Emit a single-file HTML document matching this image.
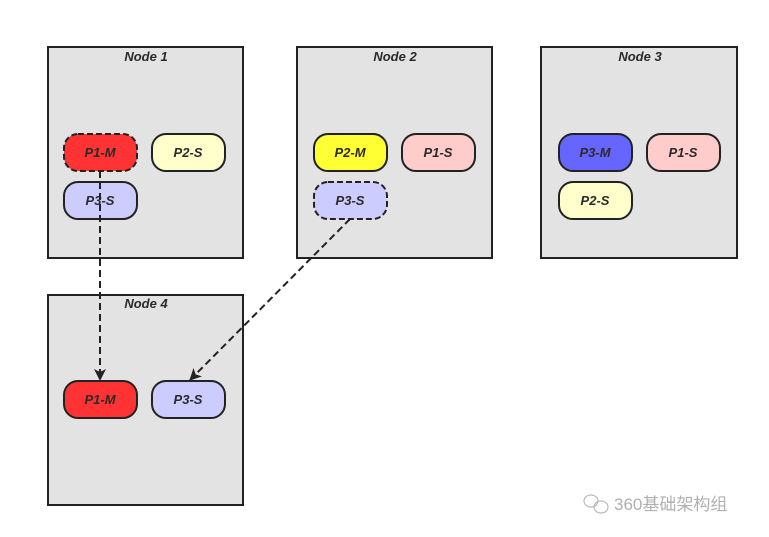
<!DOCTYPE html>
<html><head><meta charset="utf-8"><style>body{margin:0;background:#fff}svg{display:block}text{font-family:"Liberation Sans",sans-serif;font-style:italic;font-weight:bold}</style></head><body>
<svg width="769" height="537" xmlns="http://www.w3.org/2000/svg">
<defs><marker id="a" markerWidth="12" markerHeight="12" refX="11" refY="6" orient="auto" markerUnits="userSpaceOnUse"><path d="M0,0 L12,6 L0,12 L3,6 z" fill="#222"/></marker></defs>
<g fill="#e3e3e3" stroke="#222" stroke-width="2">
<rect x="48" y="47" width="195" height="211"/>
<rect x="297" y="47" width="195" height="211"/>
<rect x="541" y="47" width="196" height="211"/>
<rect x="48" y="295" width="195" height="210"/>
</g>
<g font-size="13" fill="#2a2a2a" text-anchor="middle">
<text x="146" y="61">Node 1</text><text x="395" y="61">Node 2</text><text x="640" y="61">Node 3</text><text x="146" y="308">Node 4</text>
</g>
<g stroke="#222" stroke-width="2">
<rect x="64" y="134" width="73" height="37" rx="14" fill="#ff3333" stroke-dasharray="6,3"/>
<rect x="152" y="134" width="73" height="37" rx="14" fill="#ffffcc"/>
<rect x="64" y="182" width="73" height="37" rx="14" fill="#ccccff"/>
<rect x="314" y="134" width="73" height="37" rx="14" fill="#ffff33"/>
<rect x="402" y="134" width="73" height="37" rx="14" fill="#ffcccc"/>
<rect x="314" y="182" width="73" height="37" rx="14" fill="#ccccff" stroke-dasharray="6,3"/>
<rect x="559" y="134" width="73" height="37" rx="14" fill="#6666ff"/>
<rect x="647" y="134" width="73" height="37" rx="14" fill="#ffcccc"/>
<rect x="559" y="182" width="73" height="37" rx="14" fill="#ffffcc"/>
<rect x="64" y="381" width="73" height="37" rx="14" fill="#ff3333"/>
<rect x="152" y="381" width="73" height="37" rx="14" fill="#ccccff"/>
</g>
<g font-size="13" fill="#2a2a2a" text-anchor="middle">
<text x="100" y="157">P1-M</text><text x="188" y="157">P2-S</text><text x="100" y="205">P3-S</text>
<text x="350" y="157">P2-M</text><text x="438" y="157">P1-S</text><text x="350" y="205">P3-S</text>
<text x="595" y="157">P3-M</text><text x="683" y="157">P1-S</text><text x="595" y="205">P2-S</text>
<text x="100" y="404">P1-M</text><text x="188" y="404">P3-S</text>
</g>
<g stroke="#222" stroke-width="2" stroke-dasharray="7,4" fill="none">
<line x1="100" y1="171" x2="100" y2="380" marker-end="url(#a)"/>
<line x1="350" y1="219" x2="190" y2="380" marker-end="url(#a)"/>
</g>
<g fill="none" stroke="#bbb" stroke-width="1.2"><ellipse cx="591" cy="501" rx="7" ry="6"/><ellipse cx="601" cy="507" rx="7" ry="6"/></g>
<text x="614" y="510" font-size="17" fill="#b0b0b0" style="font-style:normal;font-weight:normal;font-family:'Liberation Sans','Noto Sans CJK SC',sans-serif">360基础架构组</text>
</svg>
</body></html>
